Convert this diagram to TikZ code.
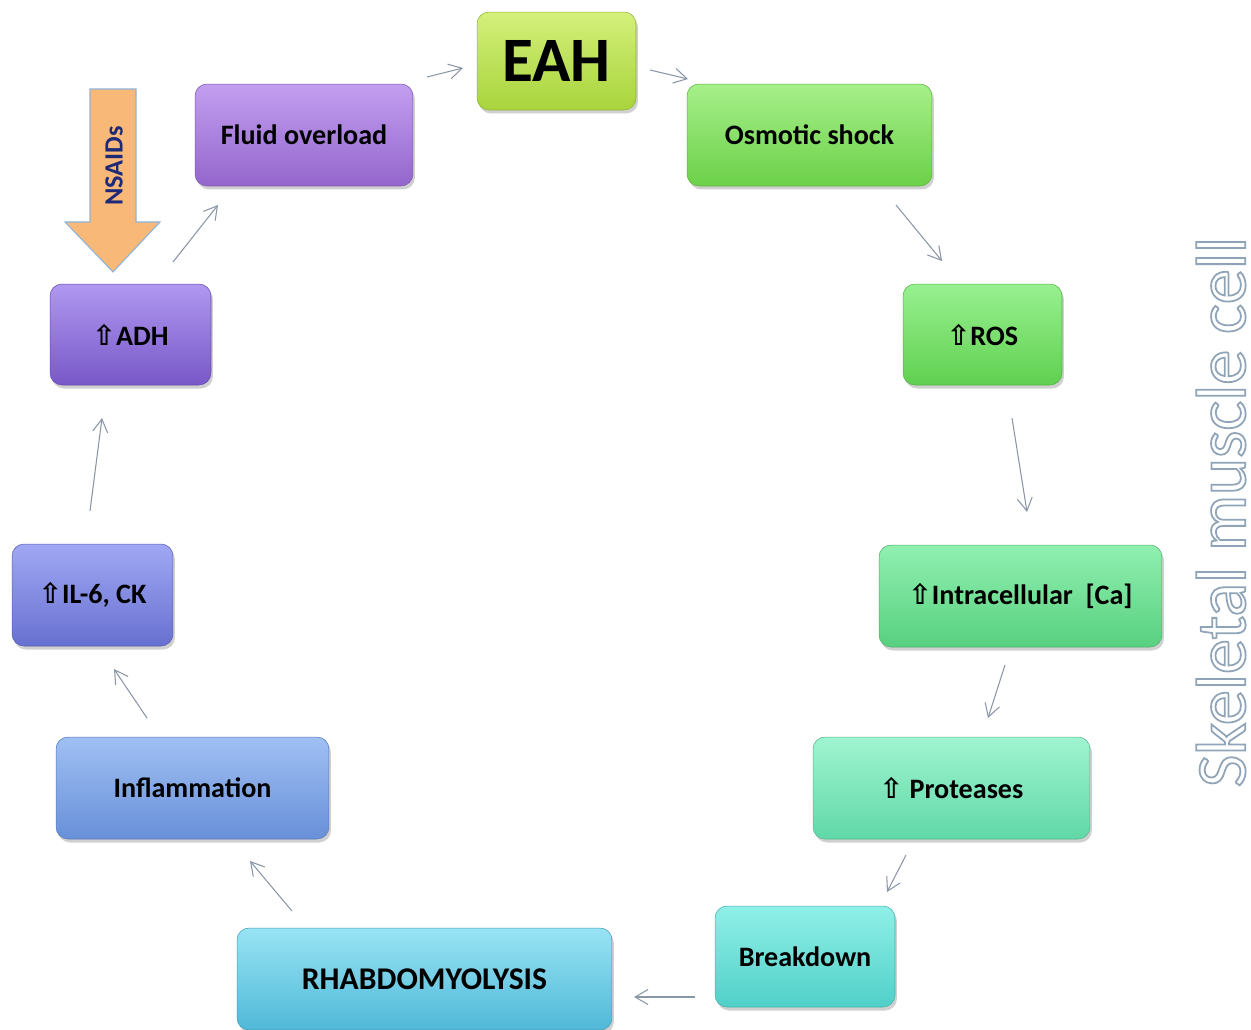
\documentclass[tikz,border=0pt]{standalone}
\usepackage{fontspec}
\setmainfont{Carlito}
\newfontfamily\arrfont{DejaVu Sans}
\newcommand\uparr{{\arrfont\bfseries ⇧}}
\usetikzlibrary{shadows,arrows.meta}
\definecolor{eahT}{HTML}{D4F07A}\definecolor{eahB}{HTML}{A8D43C}
\definecolor{fluT}{HTML}{C29EF0}\definecolor{fluB}{HTML}{9466CC}
\definecolor{osmT}{HTML}{A6F08A}\definecolor{osmB}{HTML}{6CD048}
\definecolor{rosT}{HTML}{98F090}\definecolor{rosB}{HTML}{60D050}
\definecolor{intT}{HTML}{90F0B0}\definecolor{intB}{HTML}{58D080}
\definecolor{proT}{HTML}{A0F4D0}\definecolor{proB}{HTML}{60D8A8}
\definecolor{brkT}{HTML}{90F0E8}\definecolor{brkB}{HTML}{50D0C8}
\definecolor{rhaT}{HTML}{98E4F4}\definecolor{rhaB}{HTML}{50B8D8}
\definecolor{infT}{HTML}{A0C0F4}\definecolor{infB}{HTML}{6890D8}
\definecolor{ilT}{HTML}{A0A8F4}\definecolor{ilB}{HTML}{6870D0}
\definecolor{adhT}{HTML}{B098F0}\definecolor{adhB}{HTML}{7858C8}
\definecolor{nsaidfill}{HTML}{F8B878}
\definecolor{nsaidline}{HTML}{8CB4DC}
\definecolor{nsaidtext}{HTML}{1E2A78}
\definecolor{conn}{HTML}{8A96A6}
\definecolor{sidecol}{HTML}{90A4B8}
\tikzset{
  box/.style n args={2}{rounded corners=0.24cm, top color=#1, bottom color=#2,
     draw=#2!85!black, line width=0.3pt, font=\bfseries\fontsize{16}{19}\selectfont,
     align=center, inner sep=0pt,
     drop shadow={shadow xshift=0.04cm, shadow yshift=-0.07cm, opacity=0.3, fill=black!60}},
  conarrow/.style={draw=conn, line width=0.6pt, -{Straight Barb[length=0.26cm,width=0.3cm,line width=0.6pt]}},
}
\begin{document}
\begin{tikzpicture}[x=0.02cm,y=-0.02cm]
\useasboundingbox (0,0) rectangle (1251,1029);
\fill[white] (0,0) rectangle (1251,1029);

% boxes
\node[box={eahT}{eahB}, minimum width=3.18cm, minimum height=1.96cm, font=\bfseries\fontsize{36}{40}\selectfont] (eah) at (556.5,61) {EAH};
\node[box={fluT}{fluB}, minimum width=4.36cm, minimum height=2.04cm] (fluid) at (304,135) {Fluid overload};
\node[box={osmT}{osmB}, minimum width=4.9cm, minimum height=2.04cm] (osm) at (809.5,135) {Osmotic shock};
\node[box={rosT}{rosB}, minimum width=3.18cm, minimum height=2.02cm] (ros) at (982.5,334.5) {\uparr ROS};
\node[box={intT}{intB}, minimum width=5.66cm, minimum height=2.04cm] (intra) at (1020.5,596) {\uparr Intracellular\ \ [Ca]};
\node[box={proT}{proB}, minimum width=5.54cm, minimum height=2.04cm] (prot) at (951.5,788) {\uparr\ Proteases};
\node[box={brkT}{brkB}, minimum width=3.6cm, minimum height=2.02cm] (brk) at (805,956.5) {Breakdown};
\node[box={rhaT}{rhaB}, minimum width=7.5cm, minimum height=2.04cm, font=\bfseries\fontsize{18}{21}\selectfont] (rha) at (424.5,979) {RHABDOMYOLYSIS};
\node[box={infT}{infB}, minimum width=5.46cm, minimum height=2.04cm] (infl) at (192.5,788) {Inflammation};
\node[box={ilT}{ilB}, minimum width=3.22cm, minimum height=2.04cm] (il) at (92.5,595) {\uparr IL-6, CK};
\node[box={adhT}{adhB}, minimum width=3.22cm, minimum height=2.02cm] (adh) at (130.5,334.5) {\uparr ADH};

% NSAIDs block arrow
\draw[fill=nsaidfill, draw=nsaidline, line width=0.6pt]
  (90,89) -- (136,89) -- (136,222) -- (160,222) -- (113,272) -- (65,222) -- (90,222) -- cycle;
\node[rotate=90, text=nsaidtext, font=\bfseries\fontsize{15}{18}\selectfont] (nsaid) at (114,166) {NSAIDs};

% connector end points
\coordinate (c1s) at (427,77);  \coordinate (c1e) at (463,68);
\coordinate (c2s) at (650,70);  \coordinate (c2e) at (688,79);
\coordinate (c3s) at (896,205); \coordinate (c3e) at (942,261);
\coordinate (c4s) at (1012,418);\coordinate (c4e) at (1027,512);
\coordinate (c5s) at (1005,665);\coordinate (c5e) at (988,718);
\coordinate (c6s) at (906,855); \coordinate (c6e) at (887,892);
\coordinate (c7s) at (695,997); \coordinate (c7e) at (634,997);
\coordinate (c8s) at (292,911); \coordinate (c8e) at (250,861);
\coordinate (c9s) at (147,718); \coordinate (c9e) at (114,669);
\coordinate (c10s) at (90,511); \coordinate (c10e) at (102,418);
\coordinate (c11s) at (173,262);\coordinate (c11e) at (218,205);
\foreach \i in {1,...,11} {\draw[conarrow] (c\i s) -- (c\i e);}

% side label
\node[rotate=90, text=sidecol, font=\fontsize{40}{44}\selectfont, inner sep=0pt] (side) at (1221,512)
  {\special{pdf:literal 1 Tr 1.0 w}Skeletal muscle cell\special{pdf:literal 0 Tr}};
\end{tikzpicture}
\end{document}
